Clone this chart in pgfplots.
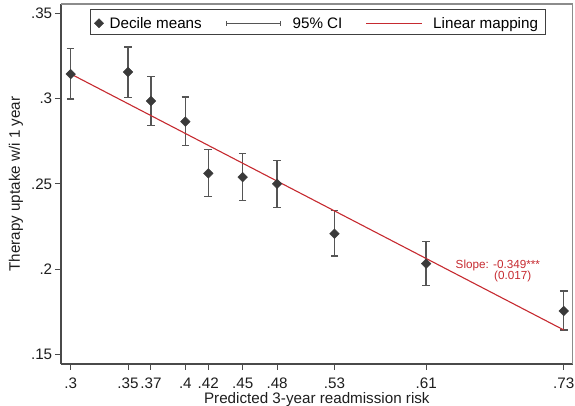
\documentclass[border=0pt]{standalone}
\usepackage{fontspec}
\setmainfont{Liberation Sans}
\usepackage{pgfplots}
\pgfplotsset{compat=1.18}
\usepackage{pgfplotstable}
\definecolor{axcol}{HTML}{4A4A4A}
\definecolor{framecol}{HTML}{8C8C8C}
\definecolor{markcol}{HTML}{3A3A3A}
\definecolor{cicol}{HTML}{555555}
\definecolor{redline}{HTML}{C62A30}
\definecolor{legcol}{HTML}{404040}
\definecolor{txtcol}{HTML}{1E1E1E}
\newcommand\fs{\fontsize{15.2}{18}\selectfont}
\newcommand\fss{\fontsize{11.7}{14}\selectfont}

\makeatletter
\pgfplotsset{
  legspaceA/.style={legend image code/.code={\pgf@protocolsizes{0pt}{0pt}\pgf@protocolsizes{3.8pt}{0pt}}},
  legspaceB/.style={legend image code/.code={\pgf@protocolsizes{0pt}{0pt}\pgf@protocolsizes{55pt}{0pt}}},
}
\makeatother

\pgfplotstableread{
x    y      lo     hi
0.30 0.3144 0.2998 0.3293
0.35 0.3156 0.3008 0.3304
0.37 0.2986 0.2841 0.3131
0.40 0.2865 0.2724 0.3009
0.42 0.2562 0.2425 0.2703
0.45 0.2540 0.2404 0.2677
0.48 0.2501 0.2363 0.2636
0.53 0.2208 0.2077 0.2343
0.61 0.2033 0.1906 0.2163
0.73 0.1755 0.1644 0.1873
}\decdata

\begin{document}
\begin{tikzpicture}
\begin{axis}[
  at={(61pt,42pt)}, anchor=south west,
  scale only axis, width=511.7pt, height=360pt,
  xmin=0.29155, xmax=0.7378, ymin=0.14444, ymax=0.3555,
  clip=false,
  axis x line*=bottom, axis y line*=left,
  axis line style={axcol, line width=1.1pt, -},
  xtick={0.30,0.35,0.37,0.40,0.42,0.45,0.48,0.53,0.61,0.73},
  xticklabels={.3,.35,.37,.4,.42,.45,.48,.53,.61,.73},
  ytick={0.15,0.20,0.25,0.30,0.35},
  yticklabels={.15,.2,.25,.3,.35},
  tick align=outside, major tick length=6pt,
  tick style={axcol, line width=1pt},
  ticklabel style={font=\fs, text=txtcol},
  xticklabel style={anchor=base, inner sep=0pt, yshift=-19pt},
  yticklabel style={anchor=east, inner sep=0pt, xshift=-2.6pt},
  xlabel={Predicted 3-year readmission risk},
  ylabel={Therapy uptake w/i 1 year},
  xlabel style={at={(axis description cs:0.5,-0.1111)}, anchor=base, font=\fs, text=txtcol, inner sep=0pt},
  ylabel style={at={(axis description cs:-0.08794,0.5)}, anchor=center, font=\fs, text=txtcol},
  legend columns=3,
  legend cell align=left,
  legend style={at={(0.0567,0.97583)}, anchor=north west, draw=none, fill=none,
    inner xsep=5pt, inner ysep=5pt,
    /tikz/every even column/.append style={column sep=25.1pt},
    /tikz/every odd column/.append style={column sep=10.7pt},
    nodes={inner sep=0pt, text height=11pt, text depth=3.5pt, font=\fs}},
]
\addlegendimage{legspaceA}
\addlegendentry{Decile means}
\addlegendimage{legspaceB}
\addlegendentry{95\% CI}
\addlegendimage{legspaceB}
\addlegendentry{Linear mapping}

% data: decile means with 95% CI
\addplot[forget plot, only marks, mark=square*, mark size=3.4pt,
  mark options={rotate=45, fill=markcol, draw=markcol},
  error bars/.cd, y dir=both, y explicit,
  error bar style={cicol, line width=1.4pt},
  error mark options={cicol, rotate=90, mark size=3.8pt, line width=1.4pt}]
  table[x=x, y=y, y error plus expr=\thisrow{hi}-\thisrow{y}, y error minus expr=\thisrow{y}-\thisrow{lo}] {\decdata};

% linear mapping
\addplot[forget plot, redline, line width=1.1pt] coordinates {(0.30,0.3145) (0.73,0.1644)};

% legend keys
\addplot[forget plot, only marks, mark=square*, mark size=3.3pt,
  mark options={rotate=45, fill=markcol, draw=markcol}] coordinates {(0.32469,0.34419)};
\addplot[forget plot, cicol, line width=1pt] coordinates {(0.43606,0.34419) (0.48315,0.34419)};
\addplot[forget plot, cicol, line width=1pt] coordinates {(0.43606,0.34272) (0.43606,0.34565)};
\addplot[forget plot, cicol, line width=1pt] coordinates {(0.48315,0.34272) (0.48315,0.34565)};
\addplot[forget plot, redline, line width=1.1pt] coordinates {(0.55754,0.34419) (0.60611,0.34419)};

\draw[framecol, line width=1.1pt] (rel axis cs:0,1) -- (rel axis cs:1,1) -- (rel axis cs:1,0);
\draw[legcol, line width=0.9pt] (rel axis cs:0.05667,0.91667) rectangle (rel axis cs:0.94587,0.98611);

\node[anchor=base west, font=\fss, text=redline, inner sep=0pt] at (axis cs:0.6356,0.2005) {Slope: -0.349***};
\node[anchor=base west, font=\fss, text=redline, inner sep=0pt] at (axis cs:0.6692,0.1941) {(0.017)};
\end{axis}
\pgfresetboundingbox
\path[use as bounding box] (0pt,0pt) rectangle (575pt,406pt);
\end{tikzpicture}
\end{document}
